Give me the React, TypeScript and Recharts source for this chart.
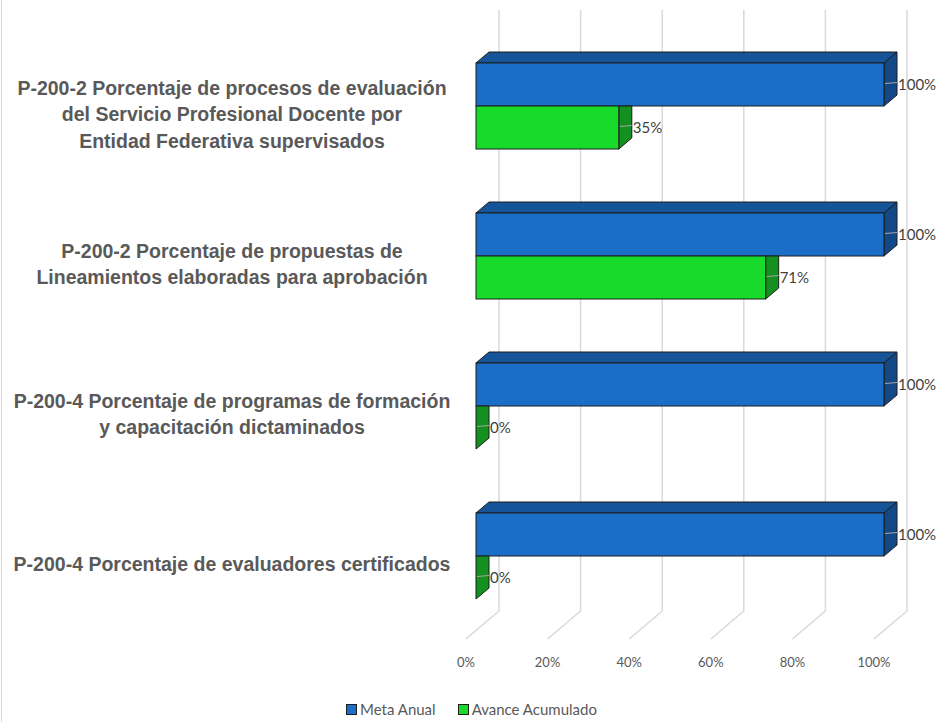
import React from "react";
import { BarChart, Bar, XAxis, YAxis, CartesianGrid, LabelList } from "recharts";

const categories = [
  "P-200-2 Porcentaje de procesos de evaluación\ndel Servicio Profesional Docente por\nEntidad Federativa supervisados",
  "P-200-2 Porcentaje de propuestas de\nLineamientos elaboradas para aprobación",
  "P-200-4 Porcentaje de programas de formación\ny capacitación dictaminados",
  "P-200-4 Porcentaje de evaluadores certificados",
];
const metaAnual = [1, 1, 1, 1];
const avanceAcumulado = [0.35, 0.71, 0, 0];
const xTicks = [0, 0.2, 0.4, 0.6, 0.8, 1];

const data = categories.map((name, i) => ({
  name,
  meta: metaAnual[i],
  avance: avanceAcumulado[i],
}));

// depth of the 3d boxes
const DX = 13;
const DY = 11;
const OUTLINE = "#1c1c1c";

const BLUE = { front: "#1b6ec8", top: "#16549a", side: "#134887" };
const GREEN = { front: "#17da2b", top: "#13901f", side: "#13901f" };

function Box3D(props: any) {
  const { x, y, width, height, colors, lower } = props;
  const w = Math.max(0, width);
  const r = x + w;
  const sideTop = lower ? y : y - DY;
  return (
    <g>
      {!lower && (
        <polygon
          points={`${x},${y} ${x + DX},${y - DY} ${r + DX},${y - DY} ${r},${y}`}
          fill={colors.top}
          stroke={OUTLINE}
          strokeWidth={1}
        />
      )}
      <polygon
        points={`${r},${y} ${r + DX},${sideTop} ${r + DX},${y + height - DY} ${r},${y + height}`}
        fill={colors.side}
        stroke={OUTLINE}
        strokeWidth={1}
      />
      {w > 0 && (
        <rect x={x} y={y} width={w} height={height} fill={colors.front} stroke={OUTLINE} strokeWidth={1} />
      )}
    </g>
  );
}

const renderValue = (p: any) => {
  const { x, y, width, height, value } = p;
  const r = x + width;
  const cy = y + height / 2 - 1;
  return (
    <g>
      <line x1={r + 1} x2={r + DX} y1={cy} y2={cy - 1} stroke="#a6a6a6" strokeWidth={1} />
      <text
        x={r + DX + 1}
        y={cy}
        dominantBaseline="central"
        fill="#3f3f3f"
        fontFamily="Lato, 'Open Sans', sans-serif"
        fontSize={15}
      >
        {Math.round(value * 100)}%
      </text>
    </g>
  );
};

const gridLine = (p: any) => {
  const { x1, y1, y2, index } = p;
  return (
    <polyline
      key={`g-${index}`}
      points={`${x1 + 23},${y1 - 21} ${x1 + 23},${y2 - 20} ${x1 - 10},${y2 + 8}`}
      fill="none"
      stroke="#d9d9d9"
      strokeWidth={1.5}
    />
  );
};

const XTick = (p: any) => (
  <text
    x={p.x - 10}
    y={p.y + 23}
    textAnchor="middle"
    dominantBaseline="central"
    fill="#595959"
    fontFamily="Lato, 'Open Sans', sans-serif"
    fontSize={13}
  >
    {Math.round(p.payload.value * 100)}%
  </text>
);

const YTick = (p: any) => {
  const lines = String(p.payload.value).split("\n");
  const lh = 26.5;
  const cy = p.y + 8;
  const first = cy - ((lines.length - 1) * lh) / 2;
  return (
    <text
      textAnchor="middle"
      fill="#595959"
      fontFamily="'Liberation Sans', Arial, sans-serif"
      fontWeight="bold"
      fontSize={19.5}
    >
      {lines.map((t, i) => (
        <tspan key={i} x={232} y={first + i * lh} dominantBaseline="central">
          {t}
        </tspan>
      ))}
    </text>
  );
};

const legendItems = [
  { label: "Meta Anual", color: BLUE.front },
  { label: "Avance Acumulado", color: GREEN.front },
];

export default function App() {
  return (
    <div
      style={{
        position: "absolute",
        left: 0,
        top: 0,
        width: 939,
        height: 722,
        background: "#fff",
        overflow: "hidden",
      }}
    >
      <div style={{ position: "absolute", left: 1, top: 0, width: 1, height: 722, background: "#d9d9d9" }} />
      <BarChart
        width={939}
        height={722}
        data={data}
        layout="vertical"
        margin={{ top: 31, right: 55, bottom: 31, left: 0 }}
        barCategoryGap={32}
        barGap={0}
      >
        <CartesianGrid horizontal={false} vertical={gridLine} />
        <XAxis
          type="number"
          domain={[0, 1]}
          ticks={xTicks}
          axisLine={false}
          tickLine={false}
          height={60}
          tick={<XTick />}
        />
        <YAxis
          type="category"
          dataKey="name"
          width={476}
          axisLine={false}
          tickLine={false}
          tick={<YTick />}
        />
        <Bar
          dataKey="meta"
          isAnimationActive={false}
          shape={(p: any) => <Box3D {...p} colors={BLUE} />}
        >
          <LabelList dataKey="meta" content={renderValue} />
        </Bar>
        <Bar
          dataKey="avance"
          isAnimationActive={false}
          shape={(p: any) => <Box3D {...p} colors={GREEN} lower />}
        >
          <LabelList dataKey="avance" content={renderValue} />
        </Bar>
      </BarChart>
      <div
        style={{
          position: "absolute",
          top: 700,
          left: 4,
          width: 935,
          display: "flex",
          justifyContent: "center",
          gap: 22,
          fontFamily: "Lato, 'Open Sans', sans-serif",
          fontSize: 15,
          color: "#595959",
        }}
      >
        {legendItems.map((it) => (
          <div key={it.label} style={{ display: "flex", alignItems: "center", gap: 3 }}>
            <span
              style={{
                display: "inline-block",
                width: 9,
                height: 9,
                background: it.color,
                border: "1px solid #1c1c1c",
              }}
            />
            <span>{it.label}</span>
          </div>
        ))}
      </div>
    </div>
  );
}
